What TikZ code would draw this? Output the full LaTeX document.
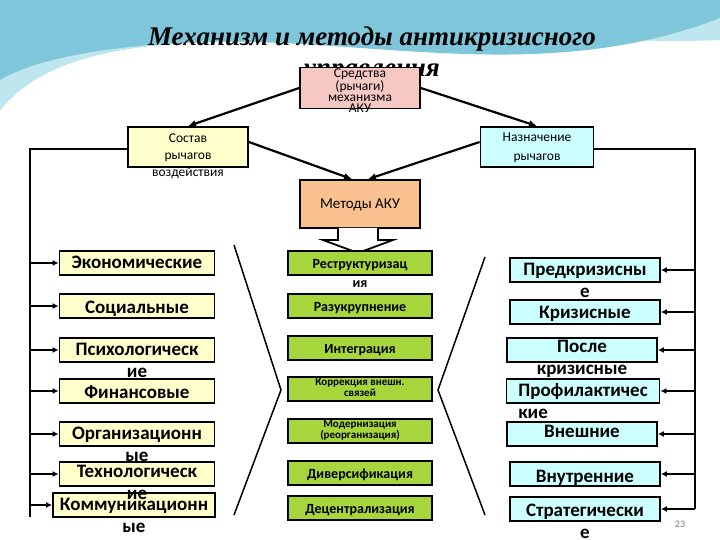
\documentclass[tikz,border=0pt]{standalone}
\usepackage{fontspec}
\setmainfont{Carlito}
\newfontfamily\titlefont{Liberation Serif}
\usetikzlibrary{arrows.meta}
\definecolor{yel}{HTML}{FFFFCC}
\definecolor{grn}{HTML}{A6D63C}
\definecolor{cya}{HTML}{CCFFFF}
\definecolor{pnk}{HTML}{F6C8C4}
\definecolor{org}{HTML}{FAC291}
\definecolor{sw1}{HTML}{7FC6DA}
\definecolor{sw2}{HTML}{BDE6EF}
\tikzset{
 bx/.style={draw=black,line width=1.8pt,inner sep=0pt},
 lbox/.style={bx,fill=yel,minimum width=155pt,minimum height=24pt},
 mbox/.style={bx,fill=grn,minimum width=144pt,minimum height=24pt},
 rbox/.style={bx,fill=cya,minimum width=150pt,minimum height=24pt},
 big/.style={font=\bfseries\fontsize{19}{22}\selectfont,align=center,inner sep=0pt,anchor=base},
 mid/.style={font=\bfseries\fontsize{14}{19}\selectfont,align=center,inner sep=0pt,anchor=base},
 sm/.style={font=\fontsize{13.5}{13}\selectfont,align=center,inner sep=0pt,anchor=base},
 arr/.style={line width=2.2pt,-{Latex[length=8pt,width=7pt]}},
 ln/.style={line width=1.8pt},
 sarr/.style={line width=2.2pt,-{Latex[length=6pt,width=6pt]}},
}
\begin{document}
\begin{tikzpicture}[x=1pt,y=-1pt]
\useasboundingbox (0,0) rectangle (720,540);
\fill[white] (0,0) rectangle (720,540);
% swoosh background
\fill[sw2] (330,0) .. controls (450,30) and (600,45) .. (720,40) -- (720,0) -- cycle;
\fill[sw1] (0,0) -- (0,110) .. controls (40,60) and (120,40) .. (250,42) .. controls (400,45) and (560,80) .. (720,18) -- (720,0) -- cycle;
\fill[sw2] (0,110) .. controls (40,60) and (120,40) .. (250,42) .. controls (200,40) and (60,45) .. (0,80) -- cycle;
% title
\node[font=\titlefont\bfseries\itshape\fontsize{27}{31}\selectfont,align=center,anchor=base] (title) at (372,77) {Механизм и методы антикризисного\\управления};
% top boxes
\node[bx,fill=pnk,minimum width=120pt,minimum height=41pt] (sr) at (360,88) {};
\node[sm,font=\fontsize{13.5}{11}\selectfont] (srt) at (360,113) {Средства\\(рычаги)\\механизма\\АКУ};
\node[bx,fill=yel,minimum width=120pt,minimum height=40pt] (sos) at (188,147) {};
\node[sm,font=\fontsize{13.5}{17}\selectfont] (sost) at (188,177) {Состав\\рычагов\\воздействия};
\node[bx,fill=cya,minimum width=113pt,minimum height=40pt] (naz) at (537,147) {};
\node[sm,font=\fontsize{13.5}{19}\selectfont] (nazt) at (537,161) {Назначение\\рычагов};
\node[bx,fill=org,minimum width=120pt,minimum height=48pt] (met) at (360,204) {};
\node[sm,font=\fontsize{15}{15}\selectfont] (mett) at (360,209) {Методы АКУ};
\draw[arr] (sr.west) -- (sos.north);
\draw[arr] (sr.east) -- (naz.north);
\draw[arr] ([yshift=5pt]sos.east) -- ([xshift=-8pt]met.north);
\draw[arr] ([yshift=5pt]naz.west) -- ([xshift=8pt]met.north);
% hollow arrow
\draw[line width=1.8pt,fill=white] (338,228) -- (338,240) -- (323,240) -- (358,253) -- (393,240) -- (378,240) -- (378,228);
% side lines
\coordinate (lt) at (30,149);
\coordinate (rt) at (695,149);
\draw[ln] (sos.west |- lt) -- (lt) -- (30,517);
\draw[ln] (naz.east |- rt) -- (rt) -- (695,509);
% left column
\node[lbox] (l1) at (137,263) {};
\node[lbox] (l2) at (137,306) {};
\node[lbox] (l3) at (137,350) {};
\node[lbox] (l4) at (137,391) {};
\node[lbox] (l5) at (137,434) {};
\node[lbox] (l6) at (137,474) {};
\node[lbox,minimum width=162pt] (l7) at (134,505) {};
\node[big] at ([yshift=-5pt]l1.center) {Экономические};
\node[big] at ([yshift=-7pt]l2.center) {Социальные};
\node[big] at ([yshift=-27pt]l3.center) {Психологическ\\ие};
\node[big] at ([yshift=-7pt]l4.center) {Финансовые};
\node[big] at ([yshift=-27pt]l5.center) {Организационн\\ые};
\node[big] at ([yshift=-25pt]l6.center) {Технологическ\\ие};
\node[big] at ([yshift=-27pt]l7.center) {Коммуникационн\\ые};
\foreach \n in {l1,l2,l3,l4,l5,l6,l7}
  \draw[sarr] (30,0 |- \n.west) -- (\n.west);
% middle column
\node[mbox] (m1) at (360,263) {};
\node[mbox] (m2) at (360,306) {};
\node[mbox] (m3) at (360,348) {};
\node[mbox] (m4) at (360,389) {};
\node[mbox] (m5) at (360,431) {};
\node[mbox] (m6) at (360,473) {};
\node[mbox] (m7) at (360,508) {};
\node[mid] at ([yshift=-24pt]m1.center) {Реструктуризац\\ия};
\node[mid] at ([yshift=-5pt]m2.center) {Разукрупнение};
\node[mid] at ([yshift=-5pt]m3.center) {Интеграция};
\node[mid,font=\bfseries\fontsize{11}{8}\selectfont] at ([yshift=-7pt]m4.center) {Коррекция внешн.\\связей};
\node[mid,font=\bfseries\fontsize{11}{8}\selectfont] at ([yshift=-7pt]m5.center) {Модернизация\\(реорганизация)};
\node[mid] at ([yshift=-5pt]m6.center) {Диверсификация};
\node[mid] at ([yshift=-5pt]m7.center) {Децентрализация};
% brackets
\draw[line width=1.5pt] (234,245) -- (281,390) -- (234,515);
\draw[line width=1.5pt] (485,257) -- (438,390) -- (485,515);
% right column
\node[rbox] (r1) at (585,270) {};
\node[rbox] (r2) at (585,312) {};
\node[rbox] (r3) at (582,350) {};
\node[rbox,minimum width=153pt] (r4) at (583,391) {};
\node[rbox] (r5) at (582,434) {};
\node[rbox] (r6) at (585,474) {};
\node[rbox] (r7) at (585,509) {};
\node[big] at ([yshift=-27pt]r1.center) {Предкризисны\\е};
\node[big] at ([yshift=-6pt]r2.center) {Кризисные};
\node[big] at ([yshift=-24pt]r3.center) {После\\кризисные};
\node[big,align=left] at ([yshift=-27pt]r4.center) {Профилактичес\\кие};
\node[big] at ([yshift=-3pt]r5.center) {Внешние};
\node[big] at ([yshift=-8pt]r6.center) {Внутренние};
\node[big] at ([yshift=-29pt]r7.center) {Стратегически\\е};
\foreach \n in {r1,r2,r3,r4,r5,r6,r7}
  \draw[sarr] (695,0 |- \n.east) -- (\n.east);
\node[font=\fontsize{10}{10}\selectfont,text=gray] (pg) at (680,524) {23};
\end{tikzpicture}
\end{document}
